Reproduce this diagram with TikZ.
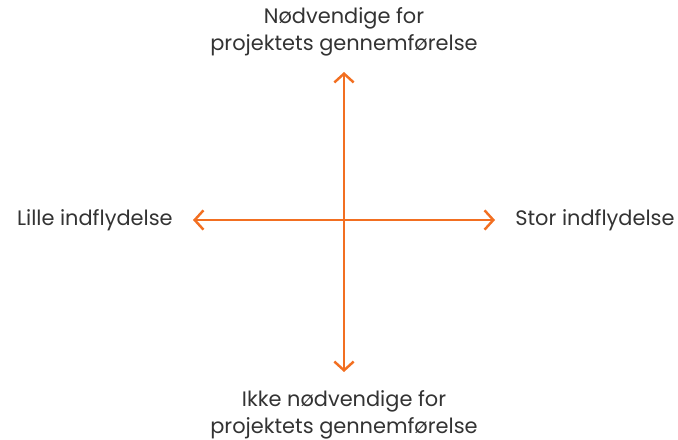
\documentclass[tikz,border=0pt]{standalone}
\usepackage{fontspec}
\setmainfont{Poppins}
\usetikzlibrary{arrows.meta}
\definecolor{axisorange}{HTML}{F26F21}
\definecolor{labelgray}{HTML}{333333}
\tikzset{
    axis/.style={axisorange, line width=1.4pt, {Straight Barb[length=5pt,width=11pt]}-{Straight Barb[length=5pt,width=11pt]}},
    axislabel/.style={text=labelgray, font=\fontsize{11.9}{15.4}\selectfont, align=center, inner sep=0pt}
}
\begin{document}
\begin{tikzpicture}[x=0.02cm,y=0.02cm]
    \useasboundingbox (0,0) rectangle (678,439);

    \coordinate (centre) at (344,219);
    \coordinate (west) at (193,219);
    \coordinate (east) at (495,219);
    \coordinate (north) at (344,367);
    \coordinate (south) at (344,67);

    \draw[axis] (west) -- (east);
    \draw[axis] (south) -- (north);

    \node[axislabel] (top) at (344,407) {Nødvendige for\\projektets gennemførelse};
    \node[axislabel] (bottom) at (344,24) {Ikke nødvendige for\\projektets gennemførelse};
    \node[axislabel, anchor=east] (left) at (173,219) {Lille indflydelse};
    \node[axislabel, anchor=west] (right) at (515,219) {Stor indflydelse};
\end{tikzpicture}
\end{document}
